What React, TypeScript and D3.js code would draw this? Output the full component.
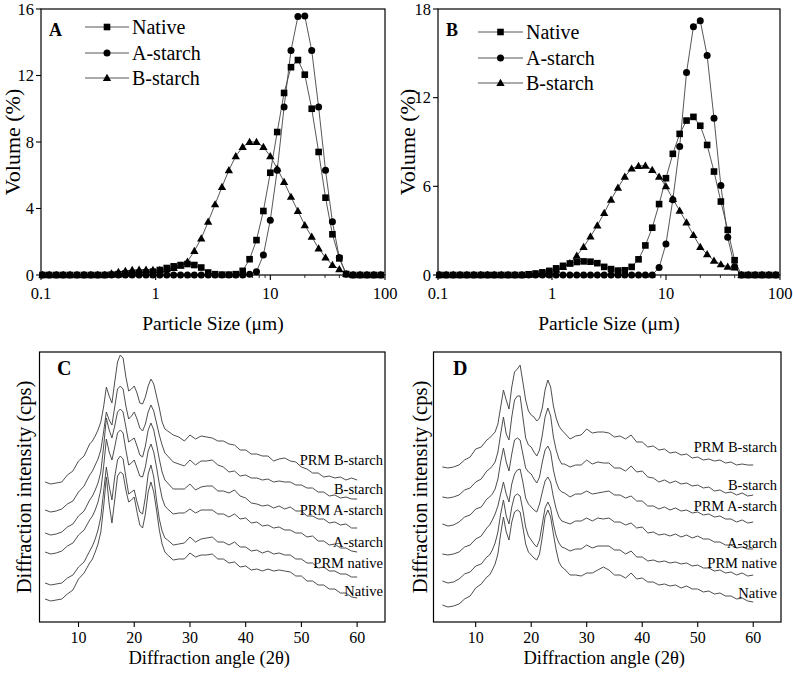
import React from "react";
import * as d3 from "d3";

// ---------- Particle size distributions (panels A, B) ----------
const SIZES = [0.103, 0.118, 0.136, 0.156, 0.179, 0.206, 0.237, 0.272, 0.312, 0.359,
  0.412, 0.473, 0.544, 0.624, 0.717, 0.824, 0.947, 1.087, 1.249, 1.435,
  1.648, 1.893, 2.175, 2.498, 2.87, 3.296, 3.786, 4.349, 4.996, 5.739,
  6.592, 7.572, 8.698, 9.992, 11.48, 13.18, 15.14, 17.4, 19.98, 22.96,
  26.37, 30.29, 34.79, 39.97, 45.91, 52.74, 60.58, 69.58, 79.93, 91.81];

const A_NATIVE = [0, 0, 0, 0, 0, 0, 0, 0, 0, 0,
  0.02, 0.05, 0.08, 0.1, 0.12, 0.15, 0.2, 0.3, 0.42, 0.52,
  0.6, 0.66, 0.6, 0.45, 0.15, 0.05, 0.02, 0.02, 0.05, 0.25,
  0.95, 2.1, 3.85, 6.15, 8.6, 10.95, 12.5, 12.93, 12.05, 10.0,
  7.4, 4.65, 2.45, 1.0, 0.06, 0, 0, 0, 0, 0];
const A_ASTARCH = [0, 0, 0, 0, 0, 0, 0, 0, 0, 0,
  0, 0, 0, 0, 0, 0, 0, 0, 0, 0,
  0, 0, 0, 0, 0, 0, 0, 0, 0, 0,
  0.05, 0.2, 1.2, 3.3, 6.3, 10.1, 13.5, 15.55, 15.58, 13.5,
  10.1, 6.3, 3.2, 1.05, 0.05, 0, 0, 0, 0, 0];
const A_BSTARCH = [0, 0, 0, 0, 0, 0, 0, 0, 0, 0,
  0.1, 0.18, 0.25, 0.3, 0.32, 0.32, 0.3, 0.3, 0.35, 0.42,
  0.55, 0.8, 1.45, 2.2, 3.2, 4.25, 5.3, 6.3, 7.15, 7.7,
  8.0, 8.0, 7.7, 7.15, 6.4, 5.6, 4.7, 3.85, 3.0, 2.3,
  1.6, 1.05, 0.6, 0.35, 0.06, 0, 0, 0, 0, 0];

const B_NATIVE = [0, 0, 0, 0, 0, 0, 0, 0, 0, 0,
  0, 0, 0, 0.05, 0.1, 0.18, 0.28, 0.45, 0.62, 0.78,
  0.88, 0.92, 0.9, 0.8, 0.55, 0.4, 0.3, 0.32, 0.55, 1.06,
  2.0, 3.2, 4.8, 6.55, 8.2, 9.55, 10.45, 10.7, 10.1, 8.8,
  7.0, 4.97, 3.05, 1.0, 0, 0, 0, 0, 0, 0];
const B_ASTARCH = [0, 0, 0, 0, 0, 0, 0, 0, 0, 0,
  0, 0, 0, 0, 0, 0, 0, 0, 0, 0,
  0, 0, 0, 0, 0, 0, 0, 0, 0, 0,
  0, 0, 0.5, 2.1, 5.1, 8.7, 13.7, 16.8, 17.2, 14.85,
  10.6, 6.05, 2.55, 0.55, 0, 0, 0, 0, 0, 0];
const B_BSTARCH = [0, 0, 0, 0, 0, 0, 0, 0, 0, 0,
  0, 0, 0, 0, 0.05, 0.1, 0.2, 0.35, 0.55, 0.8,
  1.3, 1.9, 2.6, 3.35, 4.2, 5.1, 5.9, 6.65, 7.2, 7.38,
  7.4, 7.1, 6.65, 6.0, 5.15, 4.35, 3.55, 2.7, 1.9, 1.4,
  0.97, 0.72, 0.56, 0.5, 0, 0, 0, 0, 0, 0];

const PSD_TICKS = [0.1, 1, 10, 100];
const PSD_TICK_LABELS = ["0.1", "1", "10", "100"];
const A_YTICKS = [0, 4, 8, 12, 16];
const B_YTICKS = [0, 6, 12, 18];
const LEGEND_NAMES = ["Native", "A-starch", "B-starch"];

// ---------- XRD patterns (panels C, D) ----------
const ANGLES = [4, 5, 6, 7, 8, 9, 10, 11, 12, 12.5, 13, 13.5, 14, 14.5, 15, 15.5, 16, 16.5,
  17, 17.5, 18, 18.5, 19, 19.5, 20, 20.5, 21, 21.5, 22, 22.5, 23, 23.5, 24, 24.5, 25, 25.5,
  26, 27, 28, 29, 30, 31, 32, 33, 34, 35, 36, 37, 38, 39, 40, 41, 42, 43, 44, 45, 46, 47,
  48, 49, 50, 51, 52, 53, 54, 55, 56, 57, 58, 59, 60];

const C_PRM_B = [140, 138, 139, 140, 147, 151, 161, 166, 178, 181, 186, 192, 200, 215, 235, 226, 219, 240,
  260, 267, 264, 245, 231, 233, 236, 229, 219, 218, 225, 236, 243, 238, 226, 214, 200, 193,
  191, 187, 185, 181, 187, 183, 186, 185, 184, 181, 181, 178, 177, 172, 172, 168, 168, 166, 166, 161, 163, 164,
  161, 160, 155, 153, 149, 149, 145, 146, 144, 145, 142, 144, 142];
const C_B = [112, 110, 111, 113, 118, 121, 130, 136, 147, 151, 157, 163, 172, 190, 210, 202, 197, 215,
  233, 236, 233, 216, 203, 206, 210, 203, 194, 191, 198, 210, 217, 211, 199, 187, 177, 169,
  166, 160, 158, 156, 162, 157, 161, 161, 162, 157, 155, 150, 151, 146, 147, 144, 144, 142, 143, 140, 141, 140,
  140, 137, 137, 134, 134, 130, 130, 126, 127, 124, 125, 123, 123];
const C_PRM_A = [89, 87, 88, 90, 95, 98, 106, 111, 122, 126, 132, 139, 150, 175, 204, 192, 184, 196,
  210, 213, 210, 195, 180, 182, 184, 176, 167, 165, 176, 192, 199, 192, 178, 163, 150, 142,
  139, 133, 133, 133, 138, 132, 135, 136, 136, 131, 131, 129, 132, 126, 124, 119, 118, 116, 117, 114, 116, 113,
  115, 111, 111, 106, 106, 103, 103, 99, 100, 97, 98, 94, 94];
const C_A = [70, 68, 69, 71, 76, 79, 87, 92, 102, 106, 112, 120, 132, 155, 183, 170, 162, 175,
  189, 192, 189, 172, 157, 159, 162, 154, 146, 145, 155, 171, 178, 170, 155, 138, 124, 116,
  113, 108, 109, 109, 113, 109, 112, 112, 112, 108, 108, 105, 108, 103, 104, 99, 100, 96, 97, 94, 95, 92,
  92, 89, 89, 85, 86, 81, 81, 77, 78, 74, 74, 71, 70];
const C_PRM_N = [39, 37, 38, 39, 44, 47, 55, 60, 71, 76, 83, 92, 105, 130, 155, 136, 122, 145,
  162, 166, 163, 145, 128, 130, 132, 120, 110, 108, 125, 148, 157, 145, 122, 103, 91, 84,
  82, 77, 78, 79, 85, 80, 83, 84, 85, 80, 80, 77, 80, 75, 75, 71, 72, 69, 71, 68, 69, 67,
  67, 63, 63, 59, 59, 54, 55, 51, 51, 48, 48, 45, 45];
const C_N = [23, 21, 22, 23, 28, 32, 43, 49, 59, 63, 70, 78, 90, 115, 145, 118, 99, 122,
  146, 150, 148, 132, 120, 122, 125, 110, 97, 94, 108, 130, 140, 130, 112, 92, 78, 70,
  67, 62, 63, 63, 69, 65, 67, 67, 68, 63, 63, 59, 60, 55, 56, 52, 53, 51, 53, 51, 52, 51,
  50, 46, 46, 41, 41, 37, 37, 33, 33, 29, 29, 25, 24];

const D_PRM_B = [155, 154, 155, 157, 162, 165, 173, 175, 182, 184, 187, 190, 198, 215, 232, 222, 213, 235,
  250, 253, 257, 240, 222, 211, 207, 205, 201, 204, 214, 232, 242, 235, 216, 204, 196, 192,
  189, 183, 186, 187, 193, 189, 190, 190, 189, 185, 186, 183, 187, 180, 180, 175, 176, 172, 173, 169, 170, 167,
  168, 164, 165, 162, 163, 161, 162, 159, 160, 157, 158, 157, 157];
const D_B = [125, 124, 125, 127, 132, 134, 140, 143, 151, 153, 156, 160, 170, 188, 205, 188, 182, 205,
  222, 226, 226, 205, 184, 177, 175, 170, 166, 172, 187, 205, 214, 206, 185, 172, 163, 158,
  158, 155, 157, 157, 162, 158, 160, 159, 159, 154, 154, 151, 156, 150, 151, 145, 144, 140, 142, 139, 141, 138,
  139, 136, 137, 134, 135, 131, 132, 129, 130, 127, 129, 126, 127];
const D_PRM_A = [98, 96, 97, 100, 105, 107, 113, 115, 123, 125, 128, 133, 143, 160, 174, 160, 151, 168,
  182, 184, 182, 168, 154, 150, 148, 143, 139, 145, 160, 172, 176, 170, 152, 140, 133, 130,
  129, 125, 128, 128, 131, 128, 129, 130, 131, 127, 127, 124, 126, 121, 121, 116, 116, 113, 115, 112, 114, 111,
  112, 109, 110, 107, 108, 105, 106, 103, 103, 100, 102, 99, 100];
const D_A = [68, 67, 68, 70, 75, 77, 83, 86, 94, 97, 102, 108, 116, 128, 140, 128, 120, 138,
  148, 152, 153, 140, 124, 118, 115, 112, 110, 118, 130, 141, 145, 140, 125, 113, 105, 101,
  100, 98, 101, 101, 104, 101, 104, 103, 104, 100, 100, 97, 99, 94, 95, 89, 90, 87, 88, 86, 88, 85,
  87, 84, 86, 83, 83, 80, 80, 77, 77, 74, 75, 73, 73];
const D_PRM_N = [41, 39, 40, 43, 48, 50, 56, 58, 65, 67, 72, 79, 90, 108, 122, 106, 98, 115,
  126, 128, 126, 112, 95, 86, 82, 78, 75, 82, 98, 114, 120, 114, 98, 86, 79, 75,
  74, 71, 73, 73, 77, 74, 76, 76, 76, 72, 72, 68, 71, 65, 65, 61, 62, 60, 61, 59, 60, 58,
  59, 56, 57, 54, 54, 51, 52, 49, 50, 47, 49, 46, 47];
const D_N = [17, 15, 16, 18, 23, 26, 34, 38, 45, 47, 52, 58, 68, 88, 105, 90, 82, 100,
  110, 112, 110, 95, 78, 70, 67, 64, 62, 68, 85, 105, 112, 105, 88, 72, 60, 55,
  53, 47, 47, 46, 49, 49, 52, 55, 52, 47, 47, 44, 49, 43, 44, 40, 40, 37, 38, 36, 37, 34,
  36, 33, 33, 30, 31, 28, 29, 26, 26, 23, 24, 21, 20];

const XRD_TICKS = [10, 20, 30, 40, 50, 60];
const XRD_NAMES = ["PRM B-starch", "B-starch", "PRM A-starch", "A-starch", "PRM native", "Native"];

const FONT = "'Liberation Serif', 'Times New Roman', Times, serif";
const LINE_COLOR = "#444";

type PsdProps = {
  left: number; right: number; top: number; bottom: number;
  yMax: number; yTicks: number[]; series: number[][];
  letter: string; letterX: number; letterY: number;
  legX: number; legY: number[]; legLen: number;
  yTitleX: number; xTitleY: number;
};

function Marker({ kind, x, y }: { kind: number; x: number; y: number }) {
  if (kind === 0) return <rect x={x - 3.3} y={y - 3.3} width={6.6} height={6.6} fill="#000" />;
  if (kind === 1) return <circle cx={x} cy={y} r={3.5} fill="#000" />;
  const p = d3.symbol(d3.symbolTriangle, 30)() as string;
  return <path d={p} transform={`translate(${x},${y + 0.6})`} fill="#000" />;
}

function PsdPanel(p: PsdProps) {
  const x = d3.scaleLog().domain([0.1, 100]).range([p.left, p.right]);
  const y = d3.scaleLinear().domain([0, p.yMax]).range([p.bottom, p.top]);
  const line = d3.line<number>().x((_, i) => x(SIZES[i])).y((d) => y(d));
  const minors: number[] = [];
  [0.1, 1, 10].forEach((dec) => {
    for (let m = 2; m <= 9; m++) minors.push(dec * m);
  });
  return (
    <g fontFamily={FONT}>
      {p.series.map((s, si) => (
        <path key={"l" + si} d={line(s) as string} fill="none" stroke={LINE_COLOR} strokeWidth={0.9} />
      ))}
      {p.series.map((s, si) =>
        s.map((v, i) => <Marker key={si + "-" + i} kind={si} x={x(SIZES[i])} y={y(v)} />)
      )}
      <rect x={p.left} y={p.top} width={p.right - p.left} height={p.bottom - p.top}
        fill="none" stroke="#000" strokeWidth={1.2} />
      {p.yTicks.map((t) => (
        <g key={"yt" + t}>
          <line x1={p.left - 5} x2={p.left} y1={y(t)} y2={y(t)} stroke="#000" strokeWidth={1.1} />
          <text x={p.left - 7} y={y(t) + 5.5} textAnchor="end" fontSize={16.5} fontFamily={FONT}>{t}</text>
        </g>
      ))}
      {PSD_TICKS.map((t, i) => (
        <g key={"xt" + t}>
          <line x1={x(t)} x2={x(t)} y1={p.bottom} y2={p.bottom + 5} stroke="#000" strokeWidth={1.1} />
          <text x={x(t)} y={p.bottom + 24} textAnchor="middle" fontSize={16.5} fontFamily={FONT}>{PSD_TICK_LABELS[i]}</text>
        </g>
      ))}
      {minors.map((t) => (
        <line key={"m" + t} x1={x(t)} x2={x(t)} y1={p.bottom} y2={p.bottom + 3} stroke="#000" strokeWidth={0.8} />
      ))}
      <text x={p.letterX} y={p.letterY} fontSize={18} fontWeight="bold" fontFamily={FONT}>{p.letter}</text>
      {LEGEND_NAMES.map((n, i) => (
        <g key={"lg" + n}>
          <line x1={p.legX} x2={p.legX + p.legLen} y1={p.legY[i]} y2={p.legY[i]} stroke={LINE_COLOR} strokeWidth={0.9} />
          <Marker kind={i} x={p.legX + p.legLen / 2} y={p.legY[i]} />
          <text x={p.legX + p.legLen + 3} y={p.legY[i] + 6.8} fontSize={20} fontFamily={FONT}>{n}</text>
        </g>
      ))}
      <text transform={`translate(${p.yTitleX},${(p.top + p.bottom) / 2}) rotate(-90)`}
        textAnchor="middle" fontSize={22} fontFamily={FONT}>Volume (%)</text>
      <text x={(p.left + p.right) / 2} y={p.xTitleY} textAnchor="middle" fontSize={19.5} fontFamily={FONT}>Particle Size (μm)</text>
    </g>
  );
}

type XrdProps = {
  left: number; right: number; top: number; bottom: number;
  xMin: number; series: number[][]; letter: string; letterX: number;
  labelRight: number; labelY: number[]; yTitleX: number;
};

function XrdPanel(p: XrdProps) {
  const x = d3.scaleLinear().domain([p.xMin, 65]).range([p.left, p.right]);
  const y = d3.scaleLinear().domain([0, 270]).range([p.bottom, p.top]);
  const line = d3.line<number>().x((_, i) => x(ANGLES[i])).y((d) => y(d));
  return (
    <g fontFamily={FONT}>
      {p.series.map((s, si) => (
        <path key={"x" + si} d={line(s) as string} fill="none" stroke={LINE_COLOR} strokeWidth={0.95} strokeLinejoin="round" />
      ))}
      <rect x={p.left} y={p.top} width={p.right - p.left} height={p.bottom - p.top}
        fill="none" stroke="#000" strokeWidth={1.2} />
      {XRD_TICKS.map((t) => (
        <g key={"t" + t}>
          <line x1={x(t)} x2={x(t)} y1={p.bottom} y2={p.bottom + 5} stroke="#000" strokeWidth={1.1} />
          <text x={x(t)} y={p.bottom + 21} textAnchor="middle" fontSize={16} fontFamily={FONT}>{t}</text>
        </g>
      ))}
      <text x={p.letterX} y={p.top + 23} fontSize={20} fontWeight="bold" fontFamily={FONT}>{p.letter}</text>
      {XRD_NAMES.map((n, i) => (
        <text key={n} x={p.labelRight} y={p.labelY[i]} textAnchor="end" fontSize={14.5} fontFamily={FONT}>{n}</text>
      ))}
      <text transform={`translate(${p.yTitleX},${(p.top + p.bottom) / 2}) rotate(-90)`}
        textAnchor="middle" fontSize={20.5} fontFamily={FONT}>Diffraction intensity (cps)</text>
      <text x={(p.left + p.right) / 2 - 3} y={p.bottom + 42} textAnchor="middle" fontSize={18.5} fontFamily={FONT}>Diffraction angle (2θ)</text>
    </g>
  );
}

export default function App() {
  return (
    <svg width={793} height={673} style={{ position: "absolute", left: 0, top: 0, background: "#fff" }}>
      <rect x={0} y={0} width={793} height={673} fill="#fff" />
      <PsdPanel left={41} right={385} top={9} bottom={275} yMax={16} yTicks={A_YTICKS}
        series={[A_NATIVE, A_ASTARCH, A_BSTARCH]} letter="A" letterX={49} letterY={36}
        legX={85} legY={[27, 53, 78]} legLen={44} yTitleX={20} xTitleY={330} />
      <PsdPanel left={438} right={780} top={9} bottom={275} yMax={18} yTicks={B_YTICKS}
        series={[B_NATIVE, B_ASTARCH, B_BSTARCH]} letter="B" letterX={446} letterY={36}
        legX={478} legY={[32, 58, 83]} legLen={45} yTitleX={415} xTitleY={330} />
      <XrdPanel left={39.5} right={385} top={352} bottom={622} xMin={3}
        series={[C_PRM_B, C_B, C_PRM_A, C_A, C_PRM_N, C_N]} letter="C" letterX={57}
        labelRight={383} labelY={[465, 494, 515, 547, 568, 596]} yTitleX={31} />
      <XrdPanel left={433.5} right={781} top={352} bottom={622} xMin={2.4}
        series={[D_PRM_B, D_B, D_PRM_A, D_A, D_PRM_N, D_N]} letter="D" letterX={453}
        labelRight={777} labelY={[452, 490, 511, 548, 568, 598]} yTitleX={427} />
    </svg>
  );
}
